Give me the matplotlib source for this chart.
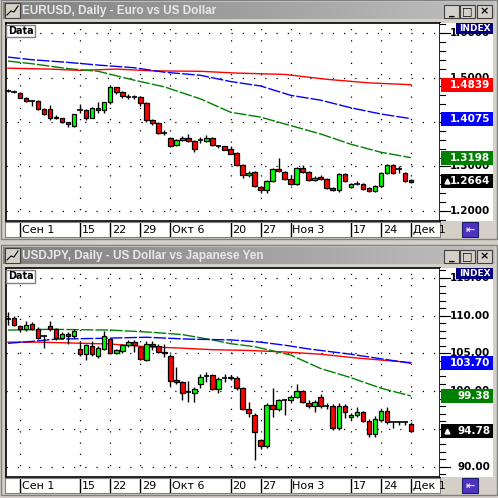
import matplotlib
matplotlib.use("Agg")
import matplotlib.pyplot as plt
from matplotlib.patches import Rectangle
import numpy as np

# ---------------- data ----------------
days = list(range(-2, 66))
tick_days = [0, 10, 15, 20, 25, 35, 40, 45, 55, 60, 65]
tick_labels = ["Сен 1", "15", "22", "29", "Окт 6", "20", "27", "Ноя 3", "17", "24", "Дек 1"]

eur_o = [1.470,1.467,1.466,1.455,1.448,1.448,1.430,1.430,1.412,1.408,1.399,1.390,1.428,1.428,1.410,1.432,1.428,1.444,1.478,1.467,
         1.457,1.457,1.457,1.442,1.405,1.397,1.376,1.363,1.349,1.360,1.365,1.358,1.360,1.358,1.365,1.345,1.345,1.340,1.330,1.303,
         1.281,1.288,1.254,1.247,1.267,1.294,1.288,1.272,1.261,1.297,1.288,1.270,1.277,1.272,1.252,1.247,1.283,1.254,1.261,1.260,
         1.251,1.244,1.256,1.286,1.304,1.295,1.286,1.270]
eur_c = [1.470,1.467,1.455,1.448,1.448,1.430,1.419,1.410,1.408,1.399,1.395,1.419,1.428,1.408,1.432,1.428,1.444,1.478,1.467,1.458,
         1.457,1.457,1.442,1.405,1.397,1.376,1.376,1.347,1.360,1.365,1.358,1.340,1.360,1.365,1.348,1.345,1.338,1.329,1.303,1.281,
         1.286,1.256,1.247,1.267,1.294,1.290,1.272,1.261,1.297,1.288,1.270,1.274,1.272,1.252,1.247,1.283,1.267,1.261,1.261,1.249,
         1.245,1.256,1.286,1.304,1.286,1.295,1.268,1.266]
eur_h = [1.474,1.472,1.468,1.457,1.450,1.449,1.432,1.438,1.416,1.410,1.401,1.419,1.440,1.430,1.434,1.445,1.446,1.480,1.479,1.470,
         1.462,1.460,1.459,1.444,1.407,1.399,1.382,1.366,1.362,1.368,1.372,1.360,1.366,1.370,1.367,1.348,1.347,1.346,1.332,1.305,
         1.290,1.290,1.256,1.270,1.296,1.319,1.290,1.280,1.299,1.304,1.290,1.278,1.280,1.274,1.254,1.285,1.285,1.263,1.268,1.262,
         1.253,1.258,1.288,1.306,1.306,1.300,1.288,1.272]
eur_l = [1.468,1.465,1.453,1.445,1.437,1.428,1.416,1.404,1.406,1.397,1.389,1.388,1.420,1.405,1.408,1.420,1.420,1.440,1.462,1.455,
         1.452,1.452,1.435,1.400,1.393,1.373,1.370,1.344,1.346,1.358,1.355,1.333,1.353,1.356,1.345,1.342,1.336,1.327,1.300,1.275,
         1.276,1.253,1.240,1.240,1.265,1.287,1.270,1.258,1.259,1.285,1.268,1.267,1.270,1.250,1.245,1.243,1.264,1.252,1.258,1.247,
         1.243,1.242,1.254,1.284,1.284,1.285,1.266,1.262]

jpy_o = [109.6,109.7,108.6,108.2,108.9,108.3,107.3,108.7,108.2,107.1,107.6,107.3,105.55,104.9,106.0,104.7,105.6,106.9,105.1,105.3,
         106.1,106.5,105.8,104.2,106.2,106.0,105.2,104.7,101.5,101.2,99.9,99.8,100.9,102.0,102.1,100.3,101.7,101.7,101.8,100.4,
         97.7,96.9,93.5,92.7,98.2,97.6,98.8,98.8,99.3,100.0,98.5,98.0,99.3,98.1,98.1,95.1,98.0,96.6,96.8,97.2,
         96.1,94.4,96.2,97.4,95.9,95.9,95.9,95.7]
jpy_c = [109.6,108.8,108.2,108.8,108.3,107.1,107.3,108.2,107.1,107.6,107.3,108.0,104.9,106.1,104.9,105.7,107.3,105.1,105.4,106.1,
         106.5,106.1,104.3,106.3,106.0,105.2,105.0,101.4,101.2,99.8,99.9,100.3,101.9,102.0,100.3,101.6,101.7,101.9,100.4,97.7,
         97.1,94.6,92.7,98.2,97.6,98.8,98.8,99.3,100.0,98.6,98.0,98.6,98.0,98.1,95.1,98.1,97.3,96.9,97.2,96.1,
         94.3,96.3,97.4,95.9,95.9,95.9,95.9,94.78]
jpy_h = [110.5,109.9,108.8,109.3,109.2,108.5,107.5,109.3,108.4,107.9,107.9,108.2,106.5,106.3,106.6,106.0,108.0,107.1,105.6,106.3,
         106.8,106.8,106.0,106.6,106.6,106.2,106.3,104.9,103.2,101.4,101.3,100.5,102.3,102.6,102.3,101.9,102.3,102.2,102.0,100.6,
         98.6,97.1,93.7,98.5,100.4,99.0,99.0,99.5,101.0,100.2,98.9,98.8,99.6,98.4,98.3,98.4,98.3,97.1,97.9,97.4,
         96.3,96.7,97.7,97.9,96.1,96.1,96.1,95.9]
jpy_l = [108.8,108.6,107.9,108.0,108.1,106.9,105.7,108.0,106.8,106.9,106.2,107.1,104.7,104.2,104.7,104.4,105.4,104.9,104.9,105.1,
         105.9,105.2,104.1,104.0,105.5,105.0,104.5,100.7,101.0,98.9,98.6,98.6,100.4,101.2,100.1,99.8,101.2,101.5,100.2,97.5,
         96.6,90.9,92.4,92.5,96.6,97.4,96.9,98.4,99.1,98.4,97.8,97.3,97.8,97.6,94.9,94.9,96.4,96.2,96.6,95.9,
         94.0,94.0,95.9,95.6,95.1,95.5,95.5,94.6]

eur_red_d = [-2, 5, 10, 16, 22, 30, 36, 44, 51, 58, 65]
eur_red_v = [1.521, 1.519, 1.516, 1.519, 1.515, 1.514, 1.510, 1.507, 1.496, 1.488, 1.4839]
eur_blue_d = [-2, 2, 8, 13, 19, 24, 30, 35, 40, 45, 50, 55, 60, 65]
eur_blue_v = [1.546, 1.540, 1.534, 1.528, 1.522, 1.512, 1.505, 1.491, 1.481, 1.460, 1.449, 1.432, 1.418, 1.4075]
eur_green_d = [-2, 2, 8, 13, 19, 24, 30, 35, 40, 45, 50, 55, 60, 65]
eur_green_v = [1.537, 1.531, 1.520, 1.514, 1.494, 1.479, 1.452, 1.422, 1.411, 1.392, 1.373, 1.350, 1.332, 1.3198]

jpy_red_d = [-2, 3, 8, 15, 21, 27, 32, 38, 44, 50, 56, 65]
jpy_red_v = [106.5, 106.5, 106.4, 106.25, 105.9, 105.7, 105.5, 105.4, 105.2, 104.9, 104.4, 103.8]
jpy_blue_d = [-2, 2, 6, 13, 21, 28, 35, 40, 44, 48, 55, 60, 65]
jpy_blue_v = [106.35, 106.6, 106.9, 107.0, 107.15, 106.9, 106.8, 106.5, 106.1, 105.6, 104.9, 104.3, 103.70]
jpy_green_d = [-2, 5, 15, 22, 27, 32, 35, 39, 45, 50, 55, 60, 65]
jpy_green_v = [108.1, 108.2, 108.1, 107.8, 107.5, 106.8, 106.3, 105.9, 104.8, 103.0, 101.8, 100.4, 99.38]

# ---------------- drawing ----------------
W = H = 498
fig = plt.figure(figsize=(W/100, H/100), dpi=100)
fig.patch.set_facecolor("#d4d0c8")
bg = fig.add_axes([0, 0, 1, 1])
bg.set_xlim(0, W); bg.set_ylim(H, 0); bg.axis("off")

def px_axes(x0, y0, x1, y1):
    return fig.add_axes([x0/W, 1 - y1/H, (x1-x0)/W, (y1-y0)/H])

def window(top, bottom, title):
    bg.add_patch(Rectangle((1, top), 496, bottom-top, fc="#d4d0c8", ec="#808080", lw=1))
    grad = np.linspace(0, 1, 256).reshape(1, -1)
    bg.imshow(grad, extent=(3, 495, top+19, top+2), cmap=matplotlib.colors.LinearSegmentedColormap.from_list(
        "t", ["#808080", "#c0c0c0"]), aspect="auto", zorder=1)
    bg.add_patch(Rectangle((5, top+3), 15, 15, fc="#d4d0c8", ec="#404040", lw=0.8, zorder=2))
    bg.plot([7, 11, 14, 18], [top+15, top+11, top+12, top+6], color="black", lw=0.8, zorder=3)
    bg.text(22, top+11, title, color="#e8e8e8", fontsize=8.5, fontweight="bold", family="Liberation Sans",
            va="center", ha="left", zorder=3)
    for bx, sym in [(444, "_"), (460, "□"), (477, "×")]:
        bg.add_patch(Rectangle((bx, top+5), 15, 13, fc="#d4d0c8", ec="#404040", lw=0.8, zorder=2))
        bg.text(bx+7.5, top+11.5, sym, fontsize=8, fontweight="bold", ha="center", va="center", zorder=3)
    bg.set_xlim(0, W); bg.set_ylim(H, 0)

def panel(top, plot_t, plot_b, title, o, c, h, l, mas, yl, majors, minors, fmt, boxes, last):
    window(top, plot_b + 18, title)
    day_to_px0 = (7 - 21)/6
    ax = px_axes(6, plot_t, 440, plot_b)
    ax.set_xlim(day_to_px0, (440-21)/6)
    ax.set_ylim(*yl)
    ax.set_facecolor("white")
    for s in ax.spines.values():
        s.set_color("black"); s.set_linewidth(1.2)
    ax.set_xticks([]); ax.set_yticks([])
    for yv in majors:
        ax.axhline(yv, color="black", lw=0.9, ls=(0, (1, 8)), zorder=1)
    for d in tick_days:
        ax.axvline(d, color="black", lw=0.9, ls=(0, (1, 8)), zorder=1)
    for d, v, col in mas:
        ax.plot(d, v, color=col, lw=1, ls=(0, (9, 1.5)) if col != "red" else "-", zorder=2)
    for i, d in enumerate(days):
        ax.vlines(d, l[i], h[i], color="black", lw=1, zorder=3)
        if abs(o[i] - c[i]) < 1e-9:
            ax.hlines(o[i], d-0.45, d+0.45, color="black", lw=1.2, zorder=4)
        else:
            col = "#00ff00" if c[i] > o[i] else "#ff0000"
            ax.bar(d, abs(c[i]-o[i]), bottom=min(o[i], c[i]), width=0.75,
                   color=col, edgecolor="black", lw=0.9, zorder=4)
    ax.text(0.004, 0.985, "Data", transform=ax.transAxes, fontsize=7, fontweight="bold",
            va="top", ha="left", zorder=6,
            bbox=dict(boxstyle="square,pad=0.15", fc="white", ec="#808080", lw=1))
    ar = px_axes(440, plot_t, 493, plot_b)
    ar.set_ylim(*yl); ar.set_xlim(0, 1)
    ar.set_facecolor("white")
    for s in ar.spines.values():
        s.set_visible(False)
    ar.set_xticks([]); ar.set_yticks([])
    for yv in minors:
        ar.plot([0, 0.1], [yv, yv], color="black", lw=0.8)
    hpx = (yl[1]-yl[0]) / (plot_b - plot_t)
    for yv in majors:
        ar.plot([0, 0.18], [yv, yv], color="black", lw=0.8)
        ar.text(0.95, yv, fmt.format(yv), ha="right", va="center", fontsize=7.5, fontweight="bold")
    for v, col in boxes:
        ar.add_patch(Rectangle((0.02, v - 7*hpx), 0.98, 14*hpx, fc=col, ec="none", zorder=5))
        ar.text(0.95, v, fmt.format(v), ha="right", va="center", fontsize=7.5, fontweight="bold",
                color="white", zorder=6)
    ar.add_patch(Rectangle((0.02, last - 7*hpx), 0.98, 14*hpx, fc="black", ec="none", zorder=5))
    ar.text(0.95, last, fmt.format(last), ha="right", va="center", fontsize=7.5, fontweight="bold",
            color="white", zorder=6)
    ar.plot([0.14], [last], marker="^", ms=3.5, color="white", zorder=6)
    ar.add_patch(Rectangle((0.3, yl[1] - 11*hpx), 0.7, 11*hpx, fc="#000080", ec="none", zorder=5))
    ar.text(0.95, yl[1] - 5.5*hpx, "INDEX", ha="right", va="center", fontsize=6.5, fontweight="bold",
            color="white", zorder=6)
    ad = px_axes(5, plot_b + 1, 440, plot_b + 16)
    ad.set_xlim(day_to_px0 - 1/6, (440-21)/6); ad.set_ylim(0, 1)
    ad.set_facecolor("white")
    ad.set_xticks([]); ad.set_yticks([])
    for s in ad.spines.values():
        s.set_color("#808080"); s.set_linewidth(0.8)
    for d, lab in zip(tick_days, tick_labels):
        ad.axvline(d, color="black", lw=1)
        ad.text(d + 0.3, 0.45, lab, ha="left", va="center", fontsize=8)
    bg.add_patch(Rectangle((462, plot_b + 1), 16, 15, fc="#4b32c0", ec="#202060", lw=0.8, zorder=3))
    bg.text(470, plot_b + 8.5, "⇤", color="white", fontsize=8, ha="center", va="center", zorder=4)

panel(0, 23, 221, "EURUSD, Daily - Euro vs US Dollar",
      eur_o, eur_c, eur_h, eur_l,
      [(eur_red_d, eur_red_v, "red"), (eur_blue_d, eur_blue_v, "blue"), (eur_green_d, eur_green_v, "green")],
      (1.1774, 1.6226), [1.2, 1.3, 1.4, 1.5, 1.6], list(np.arange(1.18, 1.62, 0.02)), "{:.4f}",
      [(1.4839, "#ff0000"), (1.4075, "#0000ff"), (1.3198, "#008000")], 1.2664)

panel(245, 268, 477, "USDJPY, Daily - US Dollar vs Japanese Yen",
      jpy_o, jpy_c, jpy_h, jpy_l,
      [(jpy_red_d, jpy_red_v, "red"), (jpy_green_d, jpy_green_v, "green"), (jpy_blue_d, jpy_blue_v, "blue")],
      (88.64, 116.32), [90, 95, 100, 105, 110, 115], list(np.arange(89, 116.5, 1.0)), "{:.2f}",
      [(103.70, "#0000ff"), (99.38, "#008000")], 94.78)

fig.savefig("out.png", dpi=100, facecolor=fig.get_facecolor())
